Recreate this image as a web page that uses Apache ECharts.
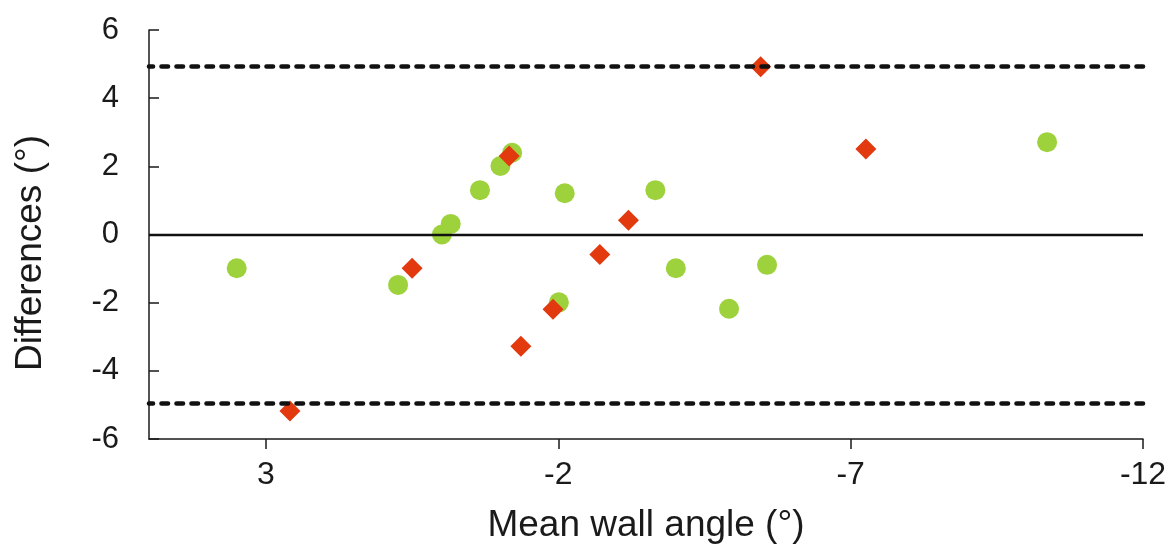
<!DOCTYPE html>
<html>
<head>
<meta charset="utf-8">
<script src="https://cdn.jsdelivr.net/npm/echarts@6/dist/echarts.min.js"></script>
<style>
html,body{margin:0;padding:0;background:#fff;}
#chart{width:1172px;height:549px;}
</style>
</head>
<body>
<div id="chart"></div>
<script>
// Data
var greenX = [3.50, 0.74, -0.01, -0.16, -0.66, -1.01, -1.21, -2.11, -2.01, -3.66, -4.01, -4.92, -5.57, -10.36];
var greenY = [-0.99, -1.48, 0.00, 0.31, 1.30, 2.01, 2.40, 1.21, -1.99, 1.30, -0.99, -2.18, -0.89, 2.71];
var redX = [2.59, 0.50, -1.16, -1.36, -1.91, -2.71, -3.20, -5.46, -7.26];
var redY = [-5.18, -0.99, 2.30, -3.28, -2.19, -0.59, 0.42, 4.92, 2.51];
var xTicks = [3, -2, -7, -12];
var meanDiff = 0;
var upperLimit = 4.95;
var lowerLimit = -4.95;
var xTitle = 'Mean wall angle (°)';
var yTitle = 'Differences (°)';

function pairs(xs, ys) { return xs.map(function (x, i) { return [x, ys[i]]; }); }

var chart = echarts.init(document.getElementById('chart'), null, { renderer: 'canvas' });
var font = 'Liberation Sans, Arial, sans-serif';
chart.setOption({
  animation: false,
  backgroundColor: '#ffffff',
  grid: { left: 149, right: 29, top: 30, bottom: 109, containLabel: false },
  xAxis: {
    type: 'value',
    min: -12, max: 5, inverse: true,
    name: xTitle, nameLocation: 'middle', nameGap: 68,
    nameTextStyle: { fontFamily: font, fontSize: 37, color: '#1a1a1a' },
    axisLine: { show: true, onZero: false, lineStyle: { color: '#1a1a1a', width: 1.5 } },
    axisTick: { show: true, inside: false, length: 10, customValues: xTicks, lineStyle: { color: '#1a1a1a', width: 1.5 } },
    axisLabel: { customValues: xTicks, margin: 20, fontFamily: font, fontSize: 32, color: '#1a1a1a' },
    splitLine: { show: false }
  },
  yAxis: {
    type: 'value',
    min: -6, max: 6, interval: 2,
    axisLine: { show: true, onZero: false, lineStyle: { color: '#1a1a1a', width: 1.5 } },
    axisTick: { show: true, inside: true, length: 10, lineStyle: { color: '#1a1a1a', width: 1.5 } },
    axisLabel: { margin: 30, fontFamily: font, fontSize: 31, color: '#1a1a1a' },
    splitLine: { show: false }
  },
  graphic: [{
    type: 'text',
    x: 31, y: 253,
    rotation: Math.PI / 2,
    style: { text: yTitle, fontFamily: font, fontSize: 37, fill: '#1a1a1a', textAlign: 'center', textVerticalAlign: 'middle' }
  }],
  series: [
    {
      type: 'scatter',
      data: pairs(greenX, greenY),
      symbol: 'circle', symbolSize: 20,
      itemStyle: { color: '#9dd23c', opacity: 1 },
      z: 3,
      markLine: {
        silent: true, symbol: 'none', label: { show: false },
        data: [
          { yAxis: meanDiff, lineStyle: { type: 'solid', color: '#111', width: 2.4 } },
          { yAxis: upperLimit, lineStyle: { type: [6.5, 8.5], cap: 'round', color: '#111', width: 4.6 } },
          { yAxis: lowerLimit, lineStyle: { type: [6.5, 8.5], cap: 'round', color: '#111', width: 4.6 } }
        ]
      }
    },
    {
      type: 'scatter',
      data: pairs(redX, redY),
      symbol: 'diamond', symbolSize: [21, 21],
      itemStyle: { color: '#e2390f', opacity: 1 },
      z: 4
    }
  ]
});
</script>
</body>
</html>
